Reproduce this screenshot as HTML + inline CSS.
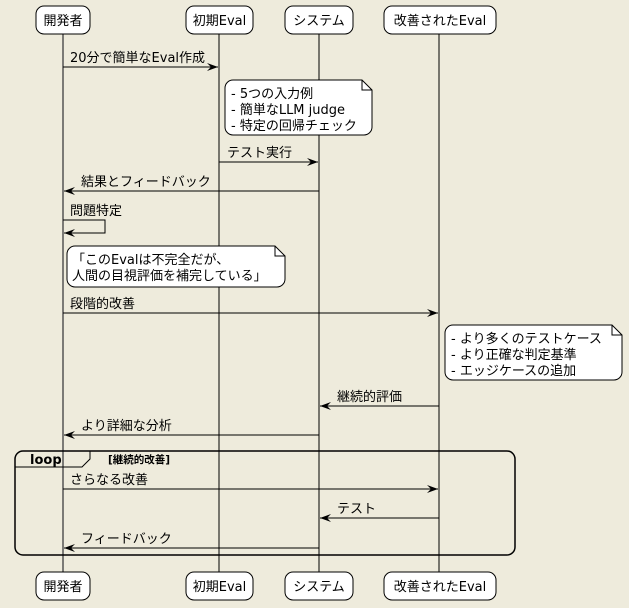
<!DOCTYPE html>
<html><head><meta charset="utf-8"><style>
html,body{margin:0;padding:0;background:#EEEBDC;}
svg{display:block;}
text{font-family:"DejaVu Sans","Noto Sans CJK JP",sans-serif;font-size:13px;fill:#000;}
</style></head><body>
<svg width="629" height="608" viewBox="0 0 629 608" xmlns="http://www.w3.org/2000/svg">
<defs>
<marker id="a" markerWidth="12" markerHeight="10" refX="11" refY="5" orient="auto" markerUnits="userSpaceOnUse">
<path d="M0,1 L11,5 L0,9 L4,5 Z" fill="#000"/></marker>
</defs>
<rect width="629" height="608" fill="#EEEBDC"/>
<g stroke="#000" stroke-width="1">
<line x1="63" y1="34" x2="63" y2="572" stroke="#555" stroke-width="1.5"/>
<line x1="219" y1="34" x2="219" y2="572"/>
<line x1="319" y1="34" x2="319" y2="572"/>
<line x1="439" y1="34" x2="439" y2="572"/>
</g>
<g fill="#fff" stroke="#000" stroke-width="1">
<rect x="36" y="6" width="54" height="28" rx="8"/>
<rect x="186" y="6" width="67" height="28" rx="8"/>
<rect x="285" y="6" width="68" height="28" rx="8"/>
<rect x="384" y="6" width="112" height="28" rx="8"/>
<rect x="36" y="572" width="54" height="28" rx="8"/>
<rect x="186" y="572" width="67" height="28" rx="8"/>
<rect x="285" y="572" width="68" height="28" rx="8"/>
<rect x="384" y="572" width="112" height="28" rx="8"/>
</g>
<g text-anchor="middle">
<text x="63" y="25">開発者</text>
<text x="219.5" y="25">初期Eval</text>
<text x="319" y="25">システム</text>
<text x="440" y="25">改善されたEval</text>
<text x="63" y="591">開発者</text>
<text x="219.5" y="591">初期Eval</text>
<text x="319" y="591">システム</text>
<text x="440" y="591">改善されたEval</text>
</g>
<g stroke="#000" stroke-width="1" fill="none">
<line x1="63" y1="67" x2="218" y2="67" marker-end="url(#a)"/>
<line x1="219" y1="162" x2="318" y2="162" marker-end="url(#a)"/>
<line x1="319" y1="191" x2="64" y2="191" marker-end="url(#a)"/>
<polyline points="63,220 105,220 105,233 64,233" marker-end="url(#a)"/>
<line x1="63" y1="313" x2="438" y2="313" marker-end="url(#a)"/>
<line x1="439" y1="406" x2="320" y2="406" marker-end="url(#a)"/>
<line x1="319" y1="435" x2="64" y2="435" marker-end="url(#a)"/>
<line x1="63" y1="489" x2="438" y2="489" marker-end="url(#a)"/>
<line x1="439" y1="518" x2="320" y2="518" marker-end="url(#a)"/>
<line x1="319" y1="548" x2="64" y2="548" marker-end="url(#a)"/>
</g>
<text x="70" y="62">20分で簡単なEval作成</text>
<text x="227" y="157">テスト実行</text>
<text x="81" y="186">結果とフィードバック</text>
<text x="70" y="215">問題特定</text>
<text x="70" y="308">段階的改善</text>
<text x="337" y="401">継続的評価</text>
<text x="81" y="430">より詳細な分析</text>
<text x="70" y="484">さらなる改善</text>
<text x="337" y="513">テスト</text>
<text x="81" y="543">フィードバック</text>
<g fill="#fff" stroke="#000" stroke-width="1">
<path d="M233,80 H362 L372,90 V127 a8,8 0 0 1 -8,8 H233 a8,8 0 0 1 -8,-8 V88 a8,8 0 0 1 8,-8 Z"/>
<path d="M362,80 V90 H372" fill="none"/>
<path d="M75,246 H275 L285,256 V279 a8,8 0 0 1 -8,8 H75 a8,8 0 0 1 -8,-8 V254 a8,8 0 0 1 8,-8 Z"/>
<path d="M275,246 V256 H285" fill="none"/>
<path d="M453,325 H612 L622,335 V372 a8,8 0 0 1 -8,8 H453 a8,8 0 0 1 -8,-8 V333 a8,8 0 0 1 8,-8 Z"/>
<path d="M612,325 V335 H622" fill="none"/>
</g>
<text x="231" y="98">- 5つの入力例</text>
<text x="231" y="114">- 簡単なLLM judge</text>
<text x="231" y="130">- 特定の回帰チェック</text>
<text x="72" y="264">「このEvalは不完全だが、</text>
<text x="72" y="280">人間の目視評価を補完している」</text>
<text x="451" y="343">- より多くのテストケース</text>
<text x="451" y="359">- より正確な判定基準</text>
<text x="451" y="375">- エッジケースの追加</text>
<rect x="15" y="451" width="500" height="104" rx="8" fill="none" stroke="#000" stroke-width="1.5"/>
<path d="M15,467 H82 L90,459 V451" fill="none" stroke="#000" stroke-width="1"/>
<text x="30" y="464" style="font-weight:bold">loop</text>
<text x="108" y="463" style="font-size:10.5px;font-weight:bold">[継続的改善]</text>
</svg>
</body></html>
